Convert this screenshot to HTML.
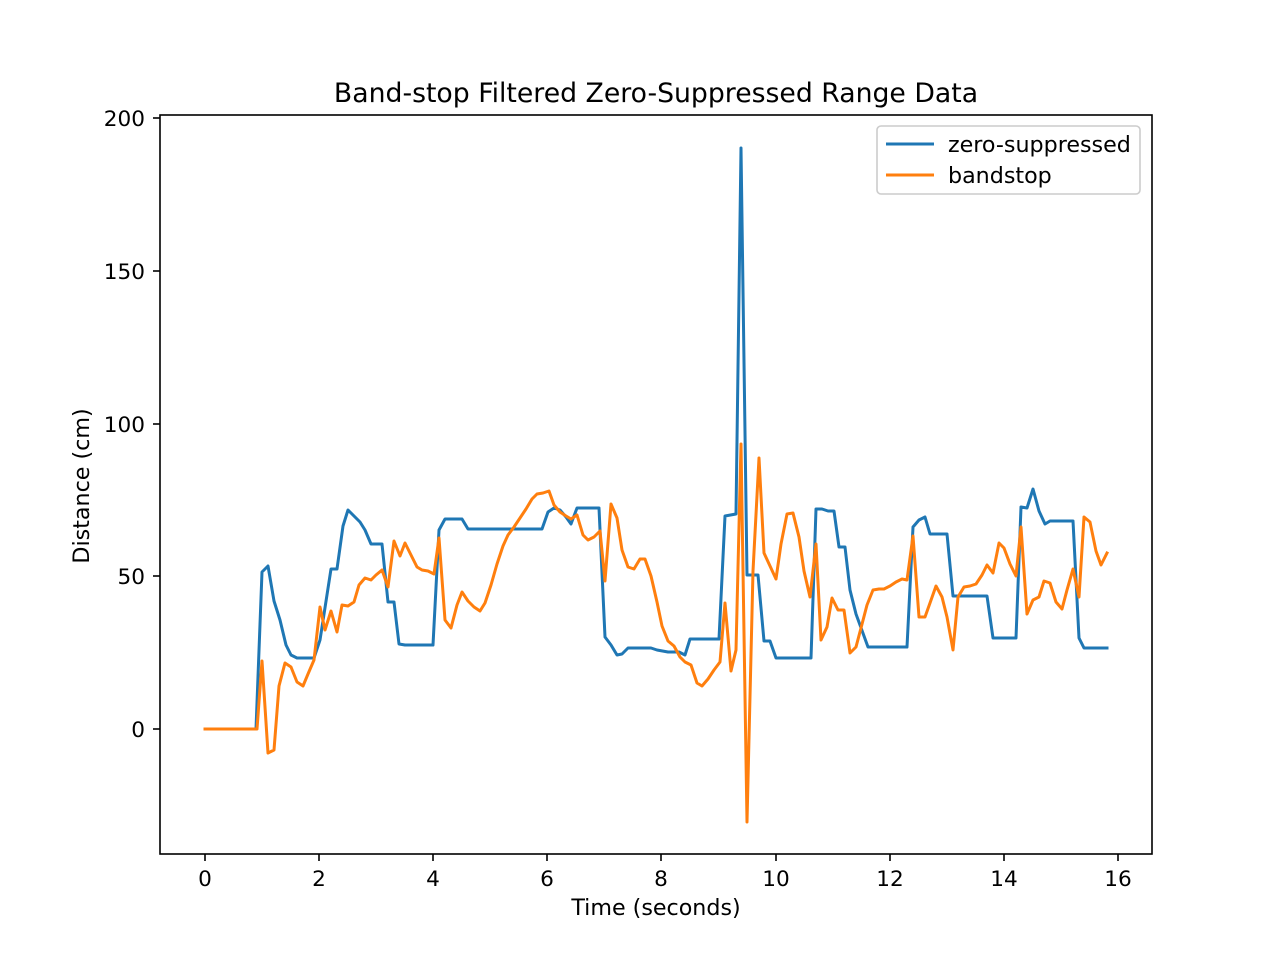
<!DOCTYPE html>
<html><head><meta charset="utf-8"><style>
html,body{margin:0;padding:0;background:#fff;}
svg{display:block;font-family:"DejaVu Sans","Liberation Sans",sans-serif;}
</style></head><body>
<svg width="1280" height="960" viewBox="0 0 1280 960" xmlns="http://www.w3.org/2000/svg">
<rect width="1280" height="960" fill="#fff"/>
<text x="656" y="102" font-size="26.7" text-anchor="middle" fill="#000">Band-stop Filtered Zero-Suppressed Range Data</text>
<g stroke="#000" stroke-width="1.6">
<line x1="205" y1="854" x2="205" y2="861"/><line x1="319" y1="854" x2="319" y2="861"/><line x1="433" y1="854" x2="433" y2="861"/><line x1="547" y1="854" x2="547" y2="861"/><line x1="661" y1="854" x2="661" y2="861"/><line x1="776" y1="854" x2="776" y2="861"/><line x1="890" y1="854" x2="890" y2="861"/><line x1="1004" y1="854" x2="1004" y2="861"/><line x1="1118" y1="854" x2="1118" y2="861"/>
<line x1="153" y1="729" x2="160" y2="729"/><line x1="153" y1="576" x2="160" y2="576"/><line x1="153" y1="424" x2="160" y2="424"/><line x1="153" y1="271" x2="160" y2="271"/><line x1="153" y1="118" x2="160" y2="118"/>
</g>
<g font-size="21.6" text-anchor="middle" fill="#000">
<text x="205" y="886">0</text><text x="319" y="886">2</text><text x="433" y="886">4</text><text x="547" y="886">6</text><text x="661" y="886">8</text><text x="776" y="886">10</text><text x="890" y="886">12</text><text x="1004" y="886">14</text><text x="1118" y="886">16</text>
</g>
<g font-size="21.6" text-anchor="end" fill="#000">
<text x="145" y="737">0</text><text x="145" y="584">50</text><text x="145" y="432">100</text><text x="145" y="279">150</text><text x="145" y="126">200</text>
</g>
<text x="656" y="915" font-size="22.2" text-anchor="middle">Time (seconds)</text>
<text transform="translate(89,486) rotate(-90)" font-size="22.2" text-anchor="middle">Distance (cm)</text>
<g fill="none" stroke-width="3" stroke-linejoin="round" stroke-linecap="square">
<polyline stroke="#1f77b4" points="205,729 256,729 262,572 268,566 274,601 280,620 286,645 291,655 297,658 314,658 320,640 331,569 337,569 343,526 348,510 354,516 360,522 365,530 371,544 382,544 388,602 394,602 399,644 405,645 433,645 439,530 445,519 462,519 468,529 542,529 548,512 554,508 560,510 566,517 571,524 577,508 599,508 605,637 611,645 617,655 622,654 628,648 651,648 657,650 668,652 679,652 685,655 690,639 719,639 725,516 736,514 741,148 747,575 758,575 764,641 770,641 776,658 811,658 816,509 822,509 828,511 834,511 839,547 845,547 850,590 856,614 868,647 907,647 913,527 919,520 925,517 930,534 947,534 953,596 987,596 993,638 1016,638 1021,507 1027,508 1033,489 1039,511 1045,524 1050,521 1073,521 1079,638 1084,648 1107,648"/>
<polyline stroke="#ff7f0e" points="205,729 257,729 262,661 268,753 274,750 279,686 285,663 291,667 297,682 303,686 308,674 314,660 320,607 325,630 331,611 337,632 342,605 348,606 354,602 359,585 365,578 371,580 376,575 382,570 388,587 394,541 400,556 405,543 411,555 417,567 422,570 428,571 434,574 439,538 445,620 451,628 457,605 462,592 468,601 474,607 480,611 485,603 491,585 497,564 503,546 508,535 514,527 520,518 526,509 532,499 537,494 543,493 549,491 554,505 560,512 566,516 571,519 577,515 583,535 588,540 594,537 600,531 605,581 611,504 617,518 622,550 628,567 634,569 640,559 645,559 651,576 657,602 662,626 668,641 674,646 680,657 685,662 691,665 697,683 702,686 708,679 714,670 720,662 725,603 731,671 736,650 741,444 747,822 753,571 759,458 764,553 770,566 776,579 781,544 787,514 793,513 799,537 804,571 810,597 816,544 821,640 827,627 832,598 838,610 844,610 850,653 856,647 861,628 867,605 873,590 879,589 884,589 890,586 896,582 902,579 907,580 913,536 919,617 925,617 930,603 936,586 942,597 947,617 953,650 958,597 964,587 970,586 976,584 982,575 987,565 993,573 999,543 1004,548 1010,564 1016,576 1021,527 1027,614 1033,600 1039,597 1044,581 1050,583 1056,602 1062,609 1067,590 1073,569 1079,597 1084,517 1090,522 1096,551 1101,565 1107,553"/>
</g>
<rect x="160" y="115" width="992" height="739" fill="none" stroke="#000" stroke-width="1.6"/>
<rect x="877" y="126" width="263" height="68" rx="4" fill="#fff" fill-opacity="0.8" stroke="#ccc" stroke-width="1.6"/>
<line x1="886" y1="144" x2="934" y2="144" stroke="#1f77b4" stroke-width="3"/>
<line x1="886" y1="175" x2="934" y2="175" stroke="#ff7f0e" stroke-width="3"/>
<text x="948" y="152" font-size="22.2">zero-suppressed</text>
<text x="948" y="183" font-size="22.2">bandstop</text>
</svg>
</body></html>
